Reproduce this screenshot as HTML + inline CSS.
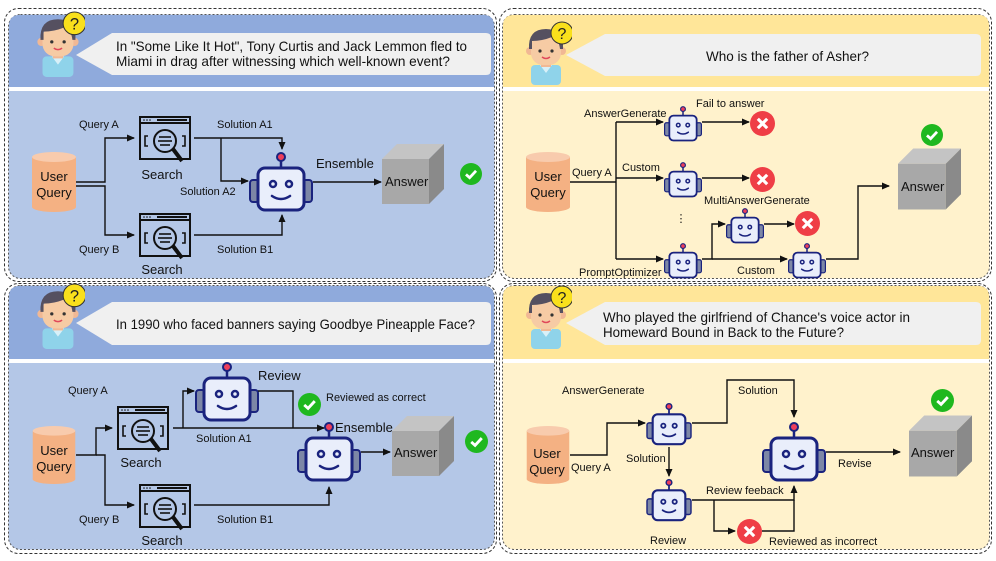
<!DOCTYPE html>
<html><head><meta charset="utf-8"><style>
html,body{margin:0;padding:0;background:#fff;}
svg{display:block;font-family:"Liberation Sans","DejaVu Sans",sans-serif;}
.l{font-size:11px;fill:#111;}
.q{font-size:14px;fill:#111;}
.m{font-size:13px;fill:#111;}
.ln{fill:none;stroke:#111;stroke-width:1.4;}
</style></head><body>
<svg width="996" height="561" viewBox="0 0 996 561" xmlns="http://www.w3.org/2000/svg">
<defs>
<marker id="a" markerWidth="8" markerHeight="8" refX="7" refY="4" orient="auto" markerUnits="userSpaceOnUse"><path d="M0,0.5 L8,4 L0,7.5z" fill="#111"/></marker>
<symbol id="robot" viewBox="0 0 64 62">
<line x1="32" y1="6" x2="32" y2="16" stroke="#1a237e" stroke-width="2.5"/>
<circle cx="32" cy="5" r="4" fill="#ee3e5b" stroke="#1a237e" stroke-width="2"/>
<rect x="1" y="28" width="9" height="22" rx="3" fill="#7d87a6" stroke="#1a237e" stroke-width="2"/>
<rect x="54" y="28" width="9" height="22" rx="3" fill="#7d87a6" stroke="#1a237e" stroke-width="2"/>
<rect x="9" y="16" width="46" height="42" rx="7" fill="#e9eefb" stroke="#1a237e" stroke-width="3"/>
<circle cx="24" cy="32" r="3" fill="none" stroke="#1a237e" stroke-width="2.5"/>
<circle cx="40" cy="32" r="3" fill="none" stroke="#1a237e" stroke-width="2.5"/>
<path d="M23,44 Q32,50 41,44" fill="none" stroke="#1a237e" stroke-width="2.5" stroke-linecap="round"/>
</symbol>
<symbol id="search" viewBox="0 0 52 48">
<rect x="1" y="1" width="50" height="42" fill="none" stroke="#111" stroke-width="2"/>
<line x1="1" y1="7" x2="51" y2="7" stroke="#111" stroke-width="2"/>
<line x1="18" y1="4" x2="48" y2="4" stroke="#111" stroke-width="2"/>
<circle cx="5" cy="4" r="0.8" fill="#111"/><circle cx="8" cy="4" r="0.8" fill="#111"/><circle cx="11" cy="4" r="0.8" fill="#111"/>
<circle cx="26" cy="25" r="11" fill="none" stroke="#111" stroke-width="2"/>
<line x1="34" y1="33" x2="43" y2="45" stroke="#111" stroke-width="4"/>
<line x1="20" y1="21" x2="32" y2="21" stroke="#111" stroke-width="1.6"/>
<line x1="19" y1="25" x2="33" y2="25" stroke="#111" stroke-width="1.6"/>
<line x1="21" y1="29" x2="31" y2="29" stroke="#111" stroke-width="1.6"/>
<path d="M9,20 h-3 v10 h3 M43,20 h3 v10 h-3" fill="none" stroke="#111" stroke-width="1.6"/>
</symbol>
<symbol id="cyl" viewBox="0 0 44 60">
<rect x="0" y="5" width="44" height="50" fill="#f4b183"/>
<ellipse cx="22" cy="55" rx="22" ry="5" fill="#f4b183"/>
<ellipse cx="22" cy="5" rx="22" ry="5" fill="#f8cbad"/>
</symbol>
<symbol id="cube" viewBox="0 0 62 60">
<polygon points="0,15 15,0 62,0 47,15" fill="#c4c4c4"/>
<rect x="0" y="15" width="47" height="45" fill="#a8a8a8"/>
<polygon points="47,15 62,0 62,45 47,60" fill="#8a8a8a"/>
</symbol>
<symbol id="ok" viewBox="0 0 24 24"><circle cx="12" cy="12" r="12" fill="#1fb81f"/><path d="M6.5,12.5 L10.5,16 L17.5,8.5" fill="none" stroke="#fff" stroke-width="3"/></symbol>
<symbol id="no" viewBox="0 0 24 24"><circle cx="12" cy="12" r="12" fill="#ef3e46"/><path d="M7.5,7.5 L16.5,16.5 M16.5,7.5 L7.5,16.5" stroke="#fff" stroke-width="3"/></symbol>
<symbol id="person" viewBox="0 0 50 66">
<rect x="9" y="44" width="30" height="20" rx="4" fill="#8fd3ea"/>
<polygon points="18,44 24,52 30,44" fill="#d8f0f8"/>
<rect x="19" y="36" width="10" height="10" fill="#f1b894"/>
<circle cx="8" cy="30" r="4" fill="#f1b894"/><circle cx="40" cy="30" r="4" fill="#f1b894"/>
<rect x="9" y="14" width="30" height="30" rx="12" fill="#f6cba4"/>
<path d="M7,28 Q6,8 24,8 Q42,8 41,28 L38,28 Q37,18 30,16 Q20,20 10,20 L10,28z" fill="#555060"/>
<circle cx="18" cy="30" r="1.6" fill="#333"/><circle cx="30" cy="30" r="1.6" fill="#333"/>
<path d="M20,36 Q24,39 28,36" fill="none" stroke="#e0485a" stroke-width="1.5"/>
<circle cx="40" cy="12" r="11" fill="#f9e01c" stroke="#333" stroke-width="1"/>
<text x="40" y="18" text-anchor="middle" font-size="16" font-family="Liberation Sans" fill="#222">?</text>
</symbol>
</defs>

<rect x="4.5" y="8.5" width="492" height="273" rx="14" fill="none" stroke="#333" stroke-dasharray="3,2"/>
<rect x="4.5" y="283.5" width="492" height="270" rx="14" fill="none" stroke="#333" stroke-dasharray="3,2"/>
<rect x="499.5" y="8.5" width="492" height="273" rx="14" fill="none" stroke="#333" stroke-dasharray="3,2"/>
<rect x="499.5" y="283.5" width="492" height="270" rx="14" fill="none" stroke="#333" stroke-dasharray="3,2"/>

<!-- TL panel -->
<rect x="8.5" y="14.5" width="486" height="264" rx="12" fill="#b4c7e7" stroke="#555" stroke-dasharray="2,2"/>
<path d="M9,87 V26 Q9,15 20,15 H483 Q494,15 494,26 V87z" fill="#8faadc"/>
<rect x="9" y="87" width="485" height="4" fill="#fff"/>
<use href="#person" x="33" y="11" width="52" height="68"/>
<path d="M112,33 H486 Q491,33 491,38 V70 Q491,75 486,75 H112 L76,55z" fill="#f0f0f0"/>
<text class="q" x="116" y="51" textLength="351" lengthAdjust="spacingAndGlyphs">In "Some Like It Hot", Tony Curtis and Jack Lemmon fled to</text>
<text class="q" x="116" y="66" textLength="334" lengthAdjust="spacingAndGlyphs">Miami in drag after witnessing which well-known event?</text>
<use href="#cyl" x="32" y="152" width="44" height="60"/>
<text class="m" x="54" y="181" text-anchor="middle">User</text>
<text class="m" x="54" y="197" text-anchor="middle">Query</text>
<use href="#search" x="139" y="116" width="52" height="48"/>
<use href="#search" x="139" y="213" width="52" height="48"/>
<text class="m" x="162" y="179" text-anchor="middle">Search</text>
<text class="m" x="162" y="274" text-anchor="middle">Search</text>
<use href="#robot" x="249" y="152" width="64" height="62"/>
<use href="#cube" x="382" y="144" width="62" height="60"/>
<text class="m" x="385" y="186">Answer</text>
<use href="#ok" x="460" y="163" width="22" height="22"/>
<path class="ln" d="M76,182 H105 V138 H134" marker-end="url(#a)"/>
<path class="ln" d="M76,186 H105 V235 H134" marker-end="url(#a)"/>
<path class="ln" d="M194,138 H282 V149" marker-end="url(#a)"/>
<path class="ln" d="M221,138 V181 H248" marker-end="url(#a)"/>
<path class="ln" d="M194,235 H282 V215" marker-end="url(#a)"/>
<path class="ln" d="M313,182 H381" marker-end="url(#a)"/>
<text class="l" x="79" y="128">Query A</text>
<text class="l" x="79" y="253">Query B</text>
<text class="l" x="217" y="128">Solution A1</text>
<text class="l" x="180" y="195">Solution A2</text>
<text class="l" x="217" y="253">Solution B1</text>
<text class="m" x="316" y="168">Ensemble</text>

<!-- TR panel -->
<rect x="502.5" y="14.5" width="487" height="264" rx="12" fill="#fff2cc" stroke="#555" stroke-dasharray="2,2"/>
<path d="M503,87 V26 Q503,15 514,15 H978 Q989,15 989,26 V87z" fill="#ffe699"/>
<rect x="503" y="87" width="486" height="4" fill="#fff"/>
<use href="#person" x="522" y="21" width="50" height="66"/>
<path d="M605,34 H976 Q981,34 981,39 V71 Q981,76 976,76 H605 L566,55z" fill="#f0f0f0"/>
<text class="q" x="706" y="61" textLength="163" lengthAdjust="spacingAndGlyphs">Who is the father of Asher?</text>
<use href="#cyl" x="526" y="152" width="44" height="60"/>
<text class="m" x="548" y="181" text-anchor="middle">User</text>
<text class="m" x="548" y="197" text-anchor="middle">Query</text>
<text class="l" x="572" y="176">Query A</text>
<path class="ln" d="M570,182 H616"/>
<path class="ln" d="M616,122 V259"/>
<path class="ln" d="M616,122 H663" marker-end="url(#a)"/>
<path class="ln" d="M616,178 H663" marker-end="url(#a)"/>
<path class="ln" d="M616,259 H663" marker-end="url(#a)"/>
<use href="#robot" x="664" y="106" width="38" height="37"/>
<use href="#robot" x="664" y="162" width="38" height="37"/>
<use href="#robot" x="664" y="243" width="38" height="37"/>
<use href="#robot" x="726" y="208" width="38" height="37"/>
<use href="#robot" x="788" y="243" width="38" height="37"/>
<path class="ln" d="M702,122 H749" marker-end="url(#a)"/>
<path class="ln" d="M702,178 H749" marker-end="url(#a)"/>
<path class="ln" d="M764,224 H794" marker-end="url(#a)"/>
<path class="ln" d="M702,259 H712 V224 H725" marker-end="url(#a)"/>
<path class="ln" d="M712,259 H787" marker-end="url(#a)"/>
<path class="ln" d="M826,259 H858 V186 H889" marker-end="url(#a)"/>
<use href="#no" x="750" y="111" width="25" height="25"/>
<use href="#no" x="750" y="167" width="25" height="25"/>
<use href="#no" x="795" y="211" width="25" height="25"/>
<text class="l" x="681" y="222" text-anchor="middle">⋮</text>
<use href="#cube" x="898" y="148" width="63" height="62"/>
<text class="m" x="901" y="191">Answer</text>
<use href="#ok" x="921" y="124" width="22" height="22"/>
<text class="l" x="584" y="117">AnswerGenerate</text>
<text class="l" x="696" y="107">Fail to answer</text>
<text class="l" x="622" y="171">Custom</text>
<text class="l" x="704" y="204">MultiAnswerGenerate</text>
<text class="l" x="579" y="276">PromptOptimizer</text>
<text class="l" x="737" y="274">Custom</text>

<!-- BL panel -->
<rect x="8.5" y="285.5" width="486" height="264" rx="12" fill="#b4c7e7" stroke="#555" stroke-dasharray="2,2"/>
<path d="M9,359 V297 Q9,286 20,286 H483 Q494,286 494,297 V359z" fill="#8faadc"/>
<rect x="9" y="359" width="485" height="4" fill="#fff"/>
<use href="#person" x="33" y="283" width="52" height="68"/>
<path d="M112,302 H486 Q491,302 491,307 V340 Q491,345 486,345 H112 L76,323z" fill="#f0f0f0"/>
<text class="q" x="116" y="329" textLength="359" lengthAdjust="spacingAndGlyphs">In 1990 who faced banners saying Goodbye Pineapple Face?</text>
<use href="#cyl" x="32" y="426" width="44" height="58"/>
<text class="m" x="54" y="455" text-anchor="middle">User</text>
<text class="m" x="54" y="471" text-anchor="middle">Query</text>
<use href="#search" x="117" y="406" width="52" height="48"/>
<use href="#search" x="139" y="484" width="52" height="48"/>
<text class="m" x="141" y="467" text-anchor="middle">Search</text>
<text class="m" x="162" y="545" text-anchor="middle">Search</text>
<use href="#robot" x="195" y="362" width="64" height="62"/>
<use href="#robot" x="297" y="422" width="64" height="62"/>
<use href="#cube" x="392" y="416" width="62" height="60"/>
<text class="m" x="394" y="457">Answer</text>
<use href="#ok" x="298" y="393" width="23" height="23"/>
<use href="#ok" x="465" y="430" width="23" height="23"/>
<path class="ln" d="M76,455 H96 V428 H112" marker-end="url(#a)"/>
<path class="ln" d="M96,455 H105 V505 H134" marker-end="url(#a)"/>
<path class="ln" d="M173,428 H324" marker-end="url(#a)"/>
<path class="ln" d="M183,428 V391 H194" marker-end="url(#a)"/>
<path class="ln" d="M258,391 H293 V428"/>
<path class="ln" d="M361,452 H390" marker-end="url(#a)"/>
<path class="ln" d="M194,505 H329 V487" marker-end="url(#a)"/>
<text class="l" x="68" y="394">Query A</text>
<text class="l" x="79" y="523">Query B</text>
<text class="m" x="258" y="380">Review</text>
<text class="l" x="326" y="401">Reviewed as correct</text>
<text class="l" x="196" y="442">Solution A1</text>
<text class="m" x="335" y="432">Ensemble</text>
<text class="l" x="217" y="523">Solution B1</text>

<!-- BR panel -->
<rect x="502.5" y="285.5" width="487" height="264" rx="12" fill="#fff2cc" stroke="#555" stroke-dasharray="2,2"/>
<path d="M503,359 V297 Q503,286 514,286 H978 Q989,286 989,297 V359z" fill="#ffe699"/>
<rect x="503" y="359" width="486" height="4" fill="#fff"/>
<use href="#person" x="522" y="285" width="50" height="66"/>
<path d="M605,302 H976 Q981,302 981,307 V340 Q981,345 976,345 H605 L566,323z" fill="#f0f0f0"/>
<text class="q" x="603" y="322" textLength="307" lengthAdjust="spacingAndGlyphs">Who played the girlfriend of Chance's voice actor in</text>
<text class="q" x="603" y="337" textLength="241" lengthAdjust="spacingAndGlyphs">Homeward Bound in Back to the Future?</text>
<use href="#cyl" x="526" y="426" width="44" height="58"/>
<text class="m" x="547" y="458" text-anchor="middle">User</text>
<text class="m" x="547" y="474" text-anchor="middle">Query</text>
<text class="l" x="571" y="471">Query A</text>
<use href="#robot" x="646" y="403" width="46" height="44"/>
<use href="#robot" x="646" y="479" width="46" height="44"/>
<use href="#robot" x="762" y="422" width="64" height="62"/>
<use href="#cube" x="909" y="415" width="63" height="62"/>
<text class="m" x="911" y="457">Answer</text>
<use href="#ok" x="931" y="389" width="23" height="23"/>
<use href="#no" x="737" y="519" width="25" height="25"/>
<path class="ln" d="M570,455 H607 V423 H645" marker-end="url(#a)"/>
<path class="ln" d="M692,423 H727 V380 H794 V417" marker-end="url(#a)"/>
<path class="ln" d="M669,447 V476" marker-end="url(#a)"/>
<path class="ln" d="M826,452 H900" marker-end="url(#a)"/>
<path class="ln" d="M692,500 H794 V486" marker-end="url(#a)"/>
<path class="ln" d="M714,500 V531 H735" marker-end="url(#a)"/>
<path class="ln" d="M762,531 H794 V500"/>
<text class="l" x="562" y="394">AnswerGenerate</text>
<text class="l" x="738" y="394">Solution</text>
<text class="l" x="626" y="462">Solution</text>
<text class="l" x="838" y="467">Revise</text>
<text class="l" x="706" y="494">Review feeback</text>
<text class="l" x="769" y="545">Reviewed as incorrect</text>
<text class="l" x="650" y="544">Review</text>
</svg>
</body></html>
